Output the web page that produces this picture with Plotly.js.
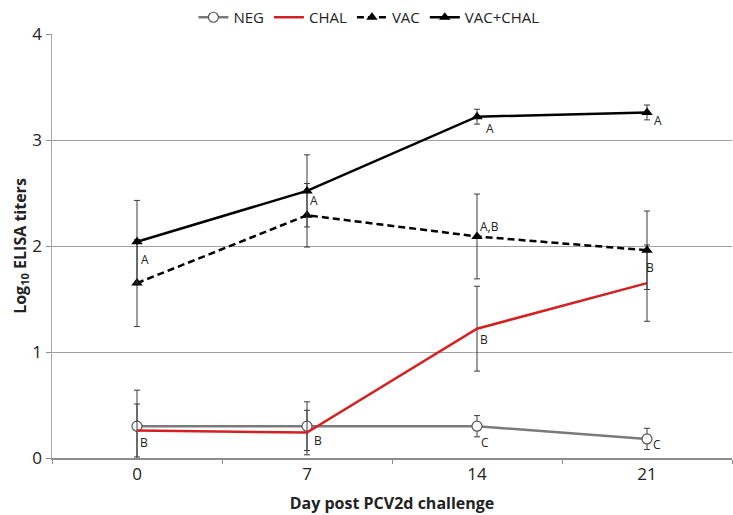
<!DOCTYPE html>
<html>
<head>
<meta charset="utf-8">
<script src="https://cdn.plot.ly/plotly-3.0.1.min.js"></script>
<style>html,body{margin:0;padding:0;background:#fff;}#chart{width:733px;height:515px;}</style>
</head>
<body>
<div id="chart"></div>
<script>
// Data
const days = ['0', '7', '14', '21'];

const negValues = [0.30, 0.30, 0.30, 0.18];
const negErrors = [0.34, 0.23, 0.10, 0.10];
const negLetters = ['', '', 'C', 'C'];

const chalValues = [0.26, 0.24, 1.22, 1.65];
const chalErrors = [0.25, 0.21, 0.40, 0.36];
const chalLetters = ['B', 'B', 'B', ''];

const vacValues = [1.65, 2.29, 2.09, 1.96];
const vacErrors = [0.41, 0.30, 0.40, 0.37];
const vacLetters = ['', '', 'A,B', 'B'];

const vacChalValues = [2.04, 2.52, 3.22, 3.26];
const vacChalErrors = [0.39, 0.34, 0.07, 0.07];
const vacChalLetters = ['A', 'A', 'A', 'A'];

const seriesNames = ['NEG', 'CHAL', 'VAC', 'VAC+CHAL'];
const yTickValues = [0, 1, 2, 3, 4];

const FONT = 'Open Sans, Noto Sans, sans-serif';
const errStyle = (arr) => ({type: 'data', array: arr, visible: true, color: '#3a3a3a', thickness: 1, width: 3});

const traces = [
  {
    x: days, y: negValues, name: seriesNames[0], type: 'scatter', mode: 'lines+markers',
    line: {color: '#7a7a7a', width: 2.5},
    marker: {symbol: 'circle', size: 10, color: '#ffffff', line: {color: '#555555', width: 1.2}},
    error_y: errStyle(negErrors)
  },
  {
    x: days, y: chalValues, name: seriesNames[1], type: 'scatter', mode: 'lines',
    line: {color: '#d42020', width: 2.5},
    error_y: errStyle(chalErrors)
  },
  {
    x: days, y: vacValues, name: seriesNames[2], type: 'scatter', mode: 'lines+markers',
    line: {color: '#000000', width: 2.5, dash: '7px,4px'},
    marker: {symbol: 'triangle-up', size: 10, color: '#000000'},
    error_y: errStyle(vacErrors)
  },
  {
    x: days, y: vacChalValues, name: seriesNames[3], type: 'scatter', mode: 'lines+markers',
    line: {color: '#000000', width: 2.5},
    marker: {symbol: 'triangle-up', size: 10, color: '#000000'},
    error_y: errStyle(vacChalErrors)
  }
];

// Letter annotations anchored at each series' data points; pixel offsets are styling
const letterSets = [
  {vals: negValues, letters: negLetters, shifts: [null, null, [8, -16], [10, -6]]},
  {vals: chalValues, letters: chalLetters, shifts: [[7, -12], [11, -8], [7, -11], null]},
  {vals: vacValues, letters: vacLetters, shifts: [null, null, [12, 10], [3, -17]]},
  {vals: vacChalValues, letters: vacChalLetters, shifts: [[8, -18], [7, -10], [13, -12], [11, -8]]}
];
const annotations = [];
letterSets.forEach(s => {
  s.letters.forEach((t, i) => {
    if (!t) return;
    const sh = s.shifts[i] || [8, -10];
    annotations.push({
      x: i, y: s.vals[i], xref: 'x', yref: 'y', text: t, showarrow: false,
      xshift: sh[0], yshift: sh[1], font: {family: FONT, size: 12, color: '#222'}
    });
  });
});

const layout = {
  width: 733, height: 515,
  margin: {l: 52, r: 1, t: 24, b: 57},
  paper_bgcolor: '#ffffff', plot_bgcolor: '#ffffff',
  font: {family: FONT, color: '#222'},
  showlegend: true,
  legend: {
    orientation: 'h', x: 0.466, xanchor: 'center', y: 1, yanchor: 'bottom',
    font: {family: FONT, size: 15, color: '#222'}, itemwidth: 30, tracegroupgap: 0
  },
  xaxis: {
    type: 'category', range: [-0.5, 3.5], tickson: 'boundaries',
    ticks: 'outside', ticklen: 4, tickcolor: '#8c8c8c',
    showline: true, linecolor: '#8c8c8c', linewidth: 1.5, showgrid: false, zeroline: false,
    tickfont: {family: FONT, size: 17, color: '#222'},
    title: {text: 'Day post PCV2d challenge', font: {family: FONT, size: 16, color: '#222', weight: 'bold'}, standoff: 14},
    automargin: false
  },
  yaxis: {
    range: [0, 4], tickvals: yTickValues, ticktext: yTickValues.map(String),
    ticks: 'outside', ticklen: 5, tickcolor: '#8c8c8c',
    showline: true, linecolor: '#a8a8a8', linewidth: 1.5,
    showgrid: true, gridcolor: '#a0a0a0', gridwidth: 1, zeroline: false,
    tickfont: {family: FONT, size: 17, color: '#222'},
    title: {text: 'Log<sub>10</sub> ELISA titers', font: {family: FONT, size: 16, color: '#222', weight: 'bold'}, standoff: 0},
    automargin: false
  },
  annotations: annotations
};

Plotly.newPlot('chart', traces, layout, {displayModeBar: false, staticPlot: true});
</script>
</body>
</html>
